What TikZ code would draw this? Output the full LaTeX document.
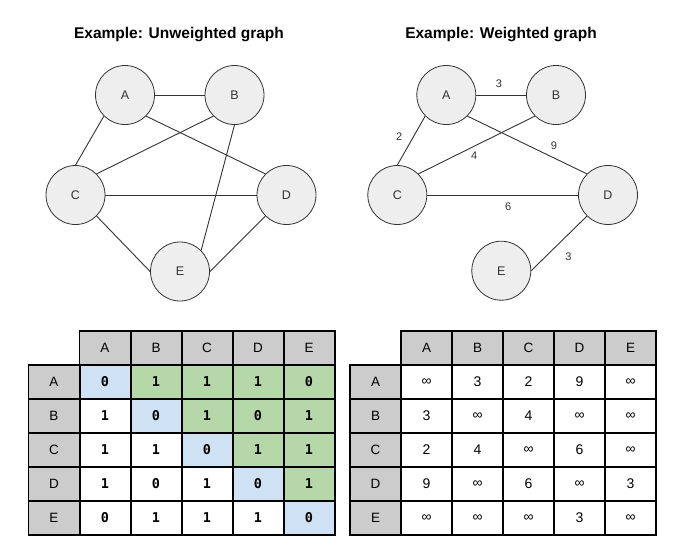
\documentclass[tikz,border=0pt]{standalone}
\usepackage{fontspec}
\setmainfont{Liberation Sans}
\newfontfamily\cellmono{DejaVu Sans Mono}
\definecolor{hdrgray}{HTML}{CCCCCC}
\definecolor{bl}{HTML}{CFE2F3}
\definecolor{gr}{HTML}{B6D7A8}
\definecolor{wh}{HTML}{FFFFFF}
\definecolor{nodefill}{HTML}{EEEEEE}
\definecolor{ink}{HTML}{333333}
\begin{document}
\begin{tikzpicture}[x=1pt,y=-1pt,
  vertex/.style={circle, draw=ink, fill=nodefill, line width=0.8pt, minimum size=59pt, inner sep=0pt, font=\fontsize{12.5}{14}\selectfont, text=ink},
  edge/.style={draw=ink, line width=0.9pt},
  elabel/.style={font=\fontsize{11}{13}\selectfont, text=ink, inner sep=1pt},
  titletext/.style={font=\fontsize{15.5}{18}\selectfont\bfseries},
  cell/.style={rectangle, minimum width=51pt, minimum height=34pt, inner sep=0pt},
  hdr/.style={cell, fill=hdrgray, font=\fontsize{13.5}{15}\selectfont},
  gridline/.style={draw=black, line width=1.6pt},
  binval/.style={font=\fontsize{13.5}{15}\selectfont\cellmono\bfseries},
  wval/.style={font=\fontsize{14}{16}\selectfont}
]
\useasboundingbox (0,0) rectangle (682,546);
\fill[white] (0,0) rectangle (682,546);

% ---------- Unweighted graph ----------
\node[titletext] (t1) at (179,35) {Example: Unweighted graph};
\node[vertex] (uA) at (125,95) {A};
\node[vertex] (uB) at (234.5,95) {B};
\node[vertex] (uC) at (75.5,195) {C};
\node[vertex] (uD) at (286.5,195) {D};
\node[vertex] (uE) at (180,271.5) {E};
\draw[edge] (uA.east) -- (uB.west);
\draw[edge] (uA.south west) -- (uC.north);
\draw[edge] (uA.south east) -- (uD.north west);
\draw[edge] (uB.south west) -- (uC.north east);
\draw[edge] (uB.south) -- (uE.north east);
\draw[edge] (uC.east) -- (uD.west);
\draw[edge] (uC.south east) -- (uE.west);
\draw[edge] (uD.south west) -- (uE.east);

% ---------- Weighted graph ----------
\node[titletext] (t2) at (501,35) {Example: Weighted graph};
\node[vertex] (wA) at (446.3,95) {A};
\node[vertex] (wB) at (556,95) {B};
\node[vertex] (wC) at (397.3,195) {C};
\node[vertex] (wD) at (608,195) {D};
\node[vertex] (wE) at (501.3,270.7) {E};
\draw[edge] (wA.east) -- (wB.west);
\draw[edge] (wA.south west) -- (wC.north);
\draw[edge] (wA.south east) -- (wD.north west);
\draw[edge] (wB.south west) -- (wC.north east);
\draw[edge] (wC.east) -- (wD.west);
\draw[edge] (wD.south west) -- (wE.east);
\node[elabel] (lab) at (499,83.3) {3};
\node[elabel] (lac) at (399.3,136.7) {2};
\node[elabel] (lad) at (554,146) {9};
\node[elabel] (lbc) at (474.3,156) {4};
\node[elabel] (lcd) at (508.3,206.7) {6};
\node[elabel] (lde) at (568.3,256.7) {3};

% ---------- Left table (adjacency matrix) ----------
\foreach \c [count=\i] in {A,B,C,D,E} {
  \node[hdr] (LH\i) at ({54+51*\i},348) {\c};
  \node[hdr] (LR\i) at (54,{348+34*\i}) {\c};
}
\foreach \vals [count=\i] in {
  {0/bl,1/gr,1/gr,1/gr,0/gr},
  {1/wh,0/bl,1/gr,0/gr,1/gr},
  {1/wh,1/wh,0/bl,1/gr,1/gr},
  {1/wh,0/wh,1/wh,0/bl,1/gr},
  {0/wh,1/wh,1/wh,1/wh,0/bl}} {
  \foreach \v/\col [count=\j] in \vals {
    \node[cell, binval, fill=\col] (L\i\j) at ({54+51*\j},{348+34*\i}) {\v};
  }
}
\foreach \i in {1,...,5} {
  \draw[gridline] (LH\i.north west) rectangle (LH\i.south east);
  \draw[gridline] (LR\i.north west) rectangle (LR\i.south east);
  \foreach \j in {1,...,5} {
    \draw[gridline] (L\i\j.north west) rectangle (L\i\j.south east);
  }
}

% ---------- Right table (weights) ----------
\foreach \c [count=\i] in {A,B,C,D,E} {
  \node[hdr] (RH\i) at ({375.5+51*\i},348) {\c};
  \node[hdr] (RR\i) at (375.5,{348+34*\i}) {\c};
}
\foreach \vals [count=\i] in {
  {∞,3,2,9,∞},
  {3,∞,4,∞,∞},
  {2,4,∞,6,∞},
  {9,∞,6,∞,3},
  {∞,∞,∞,3,∞}} {
  \foreach \v [count=\j] in \vals {
    \node[cell, wval, fill=white] (R\i\j) at ({375.5+51*\j},{348+34*\i}) {\v};
  }
}
\foreach \i in {1,...,5} {
  \draw[gridline] (RH\i.north west) rectangle (RH\i.south east);
  \draw[gridline] (RR\i.north west) rectangle (RR\i.south east);
  \foreach \j in {1,...,5} {
    \draw[gridline] (R\i\j.north west) rectangle (R\i\j.south east);
  }
}
\end{tikzpicture}
\end{document}
